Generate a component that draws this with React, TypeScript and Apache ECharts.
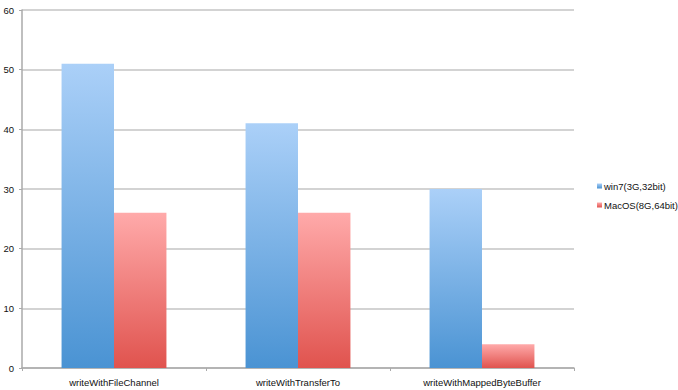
import React, { useEffect, useRef } from "react";
import * as echarts from "echarts";

const categories = ["writeWithFileChannel", "writeWithTransferTo", "writeWithMappedByteBuffer"];
const win7Values = [51, 41, 30];
const macValues = [26, 26, 4];
const seriesNames = ["win7(3G,32bit)", "MacOS(8G,64bit)"];

const blueGrad = () =>
  new echarts.graphic.LinearGradient(0, 0, 0, 1, [
    { offset: 0, color: "#ABD0F8" },
    { offset: 1, color: "#4A93D3" },
  ]);
const redGrad = () =>
  new echarts.graphic.LinearGradient(0, 0, 0, 1, [
    { offset: 0, color: "#FFAAAA" },
    { offset: 1, color: "#E0534E" },
  ]);

export default function App() {
  const ref = useRef<HTMLDivElement>(null);
  useEffect(() => {
    const chart = echarts.init(ref.current!, null, { renderer: "svg" });
    const font = "Liberation Sans";
    chart.setOption({
      animation: false,
      textStyle: { fontFamily: font },
      grid: { left: 22, right: 104, top: 10, bottom: 22, containLabel: false },
      legend: {
        orient: "vertical",
        left: 592,
        top: 176,
        itemWidth: 5,
        itemHeight: 5,
        itemGap: 9,
        icon: "rect",
        textStyle: { fontSize: 9.5, color: "#111", fontFamily: font, padding: [0, 0, 0, -3] },
        data: seriesNames,
      },
      xAxis: {
        type: "category",
        data: categories,
        axisLine: { lineStyle: { color: "#AAAAAA", width: 1.5 } },
        axisTick: { show: true, length: 3, lineStyle: { color: "#AAAAAA" } },
        axisLabel: { fontSize: 9.5, color: "#111", margin: 9, fontFamily: font },
      },
      yAxis: {
        type: "value",
        min: 0,
        max: 60,
        interval: 10,
        axisLine: { show: true, lineStyle: { color: "#AAAAAA", width: 1.5 } },
        axisTick: { show: true, length: 3, lineStyle: { color: "#AAAAAA" } },
        axisLabel: { fontSize: 9.5, color: "#111", margin: 8, fontFamily: font },
        splitLine: { lineStyle: { color: "#C4C4C4", width: 1.5 } },
      },
      series: [
        {
          name: seriesNames[0],
          type: "bar",
          data: win7Values,
          barGap: "0%",
          barCategoryGap: "43%",
          itemStyle: { color: blueGrad() },
        },
        {
          name: seriesNames[1],
          type: "bar",
          data: macValues,
          barGap: "0%",
          barCategoryGap: "43%",
          itemStyle: { color: redGrad() },
        },
      ],
    });
    return () => chart.dispose();
  }, []);
  return <div ref={ref} style={{ width: 678, height: 390, position: "absolute", left: 0, top: 0 }} />;
}
